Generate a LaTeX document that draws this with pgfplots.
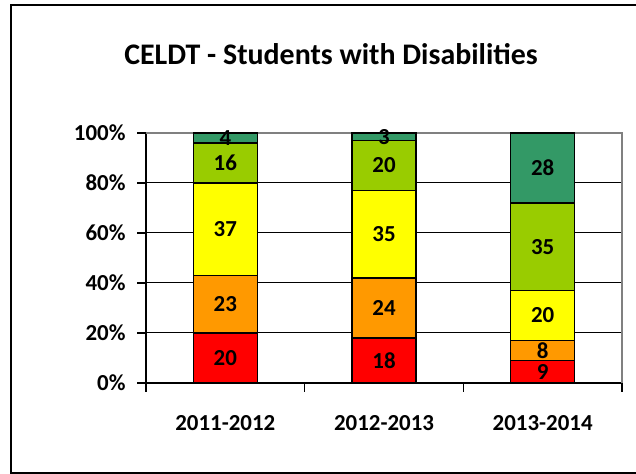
\documentclass[border=0pt]{standalone}
\usepackage{pgfplots}
\pgfplotsset{compat=1.18}
\usepackage{pgfplotstable}
\usepackage{fontspec}
\setmainfont{Carlito}
\definecolor{cred}{HTML}{FF0000}
\definecolor{corange}{HTML}{FF9900}
\definecolor{cyellow}{HTML}{FFFF00}
\definecolor{cgreen}{HTML}{99CC00}
\definecolor{cteal}{HTML}{339966}
\pgfplotstableread{
x red orange yellow green teal
0 20 23 37 16 4
1 18 24 35 20 3
2 9 8 20 35 28
}\data
\begin{document}
\begin{tikzpicture}[x=1bp,y=1bp]
\useasboundingbox (0,0) rectangle (636,474);
\draw[line width=1.5bp] (640,1) -- (11,1) -- (11,469) -- (640,469);
\node[font=\fontsize{30}{35}\selectfont\bfseries] at (331,420) {CELDT - Students with Disabilities};
\begin{axis}[
  at={(146bp,91bp)}, anchor=south west, scale only axis,
  width=476bp, height=250bp,
  ybar stacked, bar width=64bp,
  xmin=-0.5, xmax=2.5, ymin=0, ymax=100,
  axis x line*=bottom, axis y line*=left,
  axis line style={black, line width=1.5bp, -},
  /pgf/number format/assume math mode=true,
  xtick={0,1,2}, xticklabels={2011-2012,2012-2013,2013-2014},
  minor xtick={-0.5,0.5,1.5,2.5},
  major x tick style={draw=none},
  minor x tick style={black, line width=1.2bp},
  minor tick length=9bp,
  ytick={0,20,40,60,80,100},
  yticklabel={\pgfmathprintnumber{\tick}\%},
  y tick style={black, line width=1.2bp},
  major tick length=9bp,
  tick align=outside,
  ymajorgrids, grid style={black, line width=1bp},
  ticklabel style={font=\fontsize{23}{27}\selectfont\bfseries, text=black},
  xticklabel style={yshift=-20bp},
  yticklabel style={xshift=-8bp},
  point meta=explicit,
  nodes near coords={\pgfmathprintnumber{\pgfplotspointmeta}},
  nodes near coords align={center},
  every node near coord/.append style={anchor=center, font=\fontsize{23}{27}\selectfont\bfseries, text=black},
  clip=false,
]
\addplot[fill=cred, draw=black, line width=1.3bp] table[x=x,y=red,meta=red]{\data};
\addplot[fill=corange, draw=black, line width=1.3bp] table[x=x,y=orange,meta=orange]{\data};
\addplot[fill=cyellow, draw=black, line width=1.3bp] table[x=x,y=yellow,meta=yellow]{\data};
\addplot[fill=cgreen, draw=black, line width=1.3bp] table[x=x,y=green,meta=green]{\data};
\addplot[fill=cteal, draw=black, line width=1.3bp] table[x=x,y=teal,meta=teal]{\data};
\draw[gray, line width=1.5bp] (rel axis cs:0,1) -- (rel axis cs:1,1) -- (rel axis cs:1,0);
\end{axis}
\end{tikzpicture}
\end{document}
